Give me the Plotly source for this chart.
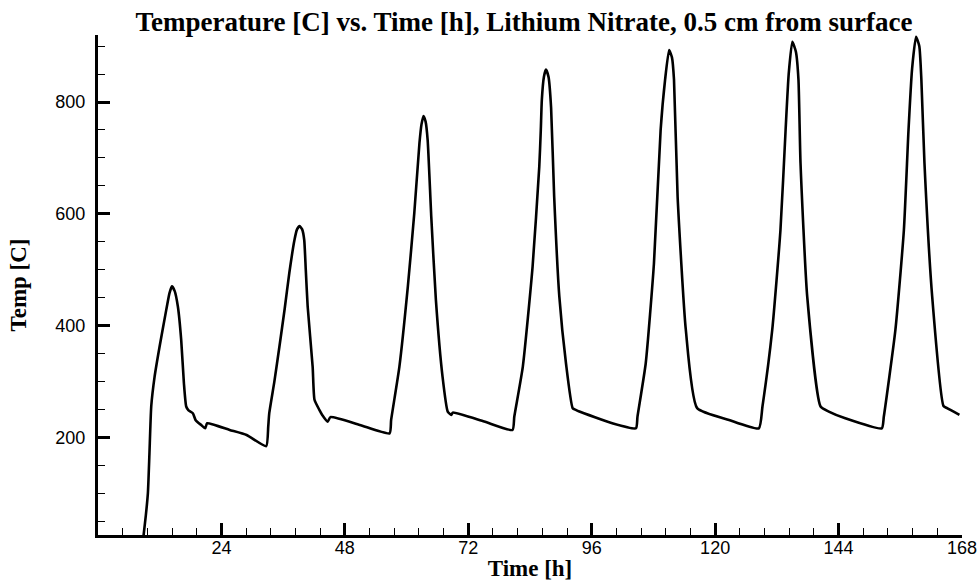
import plotly.graph_objects as go

time_h = [8.6, 8.87, 9.3, 9.7, 10.0, 10.35, 11.0, 11.97, 13.27, 13.9, 14.37, 14.9, 15.53, 16.18, 16.7, 17.15, 17.6,
          18.44, 18.96, 19.5, 20.06, 20.84, 21.22, 25.6, 28.9, 32.7,
          33.1, 33.3, 34.3, 35.27, 36.3, 37.2, 38.2, 38.7, 39.2, 39.7, 40.1, 40.4, 40.77, 41.74, 42.1,
          43.04, 43.6, 44.65, 45.2, 50.9, 56.7,
          57.0, 58.6, 60.25, 61.5, 62.5, 62.9, 63.3, 63.7, 64.1, 64.8, 65.7, 67.0, 68.0, 68.7, 69.0, 75.1, 80.6,
          80.95, 82.6, 84.5, 85.8, 86.1, 86.3, 86.7, 87.1, 87.6, 88.1, 88.7, 89.7, 91.0, 92.3, 92.9, 93.6, 100.0, 104.6,
          104.9, 106.5, 108.1, 109.4, 110.27, 111.05, 111.6, 112.0, 112.7, 114.3, 116.5, 122.7, 128.5,
          129.2, 131.1, 132.7, 133.7, 134.3, 135.0, 135.7, 136.2, 136.6, 137.9, 140.5, 142.1, 145.3, 152.4,
          152.8, 155.05, 156.7, 157.6, 158.3, 159.06, 159.7, 160.1, 160.7, 162.2, 164.4, 165.1, 167.5]
temp_c = [0, 25, 60, 100, 170, 255, 308, 362, 428, 458, 470, 462, 434, 374, 297, 255, 248,
          243, 231, 226, 222, 216, 225, 213, 204, 184,
          219, 243, 300, 362, 430, 494, 553, 572, 578, 572, 553, 500, 434, 326, 267,
          249, 240, 228, 236, 222, 207,
          231, 326, 470, 601, 726, 760, 775, 765, 732, 595, 446, 308, 246, 240, 244, 228, 213,
          237, 326, 505, 684, 750, 804, 845, 858, 845, 790, 631, 452, 332, 252, 249, 246, 225, 216,
          237, 332, 511, 750, 840, 893, 880, 840, 631, 392, 252, 231, 216,
          255, 392, 571, 750, 850, 908, 890, 840, 691, 452, 255, 246, 234, 216,
          237, 392, 571, 750, 860, 917, 900, 840, 691, 452, 256, 252, 240]

x_ticks = [24, 48, 72, 96, 120, 144, 168]
y_ticks = [200, 400, 600, 800]

fig = go.Figure()
fig.add_trace(go.Scatter(x=time_h, y=temp_c, mode="lines",
                         line=dict(color="black", width=2.6, shape="spline", smoothing=0.5),
                         showlegend=False))

tick_font = dict(family="Liberation Sans, Arial, sans-serif", size=18, color="black")
title_font = dict(family="Liberation Serif, Times New Roman, serif", size=23, color="black")

fig.update_layout(
    width=980, height=583,
    margin=dict(l=98, r=18, t=35, b=48),
    plot_bgcolor="white", paper_bgcolor="white",
    title=dict(text="<b>Temperature [C] vs. Time [h], Lithium Nitrate, 0.5 cm from surface</b>",
               font=dict(family="Liberation Serif, Times New Roman, serif", size=27, color="black"),
               x=524/980, xanchor="center", xref="container",
               y=1 - 22/583, yanchor="middle", yref="container"),
)
fig.update_xaxes(
    range=[0, 168], tickvals=x_ticks, ticktext=[str(v) for v in x_ticks],
    automargin=False,
    showline=True, linewidth=3, linecolor="black", mirror=False,
    showgrid=False, zeroline=False,
    ticks="inside", ticklen=12, tickwidth=3, tickcolor="black",
    ticklabelstandoff=-6,
    minor=dict(dtick=4.8, tick0=0, ticks="inside", ticklen=7, tickwidth=1, tickcolor="black", showgrid=False),
    tickfont=tick_font,
    title=dict(text="<b>Time [h]</b>", font=title_font, standoff=4),
)
fig.update_yaxes(
    range=[25, 920], tickvals=y_ticks, ticktext=[str(v) for v in y_ticks],
    automargin=False,
    showline=True, linewidth=3, linecolor="black", mirror=False,
    showgrid=False, zeroline=False,
    ticks="inside", ticklen=12, tickwidth=3, tickcolor="black",
    ticklabelstandoff=6,
    minor=dict(dtick=50, tick0=0, ticks="inside", ticklen=7, tickwidth=1, tickcolor="black", showgrid=False),
    tickfont=tick_font,
    title=dict(text="<b>Temp [C]</b>", font=title_font, standoff=23),
)

fig.write_html("out.html")
